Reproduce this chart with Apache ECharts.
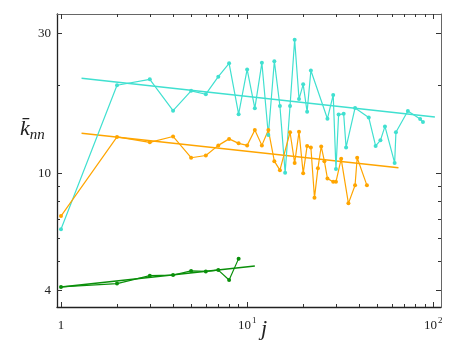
<!DOCTYPE html>
<html>
<head>
<meta charset="utf-8">
<script src="https://cdn.jsdelivr.net/npm/echarts@6/dist/echarts.min.js"></script>
<style>
  html, body { margin: 0; padding: 0; background: #fff; }
  #chart { width: 463px; height: 356px; }
</style>
</head>
<body>
<div id="chart"></div>
<script>
// data (j, k_nn)
const cyanJ = [1, 2, 3, 4, 5, 6, 7, 8, 9, 10, 11, 12, 13, 14, 15, 16, 17, 18, 19, 20, 21, 22, 27, 29, 30, 31, 33, 34, 38, 45, 49, 52, 55, 62, 63, 73, 85, 88];
const cyanK = [6.45, 19.95, 20.9, 16.35, 19.1, 18.6, 21.35, 23.7, 15.9, 22.6, 16.65, 23.8, 13.5, 24.1, 16.95, 10.05, 16.95, 28.5, 17.9, 20.1, 16.2, 22.4, 15.35, 18.5, 10.35, 15.85, 15.95, 12.25, 16.7, 15.5, 12.4, 12.95, 14.45, 10.85, 13.8, 16.3, 15.3, 14.95];

const orangeJ = [1, 2, 3, 4, 5, 6, 7, 8, 9, 10, 11, 12, 13, 14, 15, 17, 18, 19, 20, 21, 22, 23, 24, 25, 26, 27, 29, 30, 32, 35, 38, 39, 44];
const orangeK = [7.15, 13.3, 12.75, 13.35, 11.3, 11.5, 12.45, 13.1, 12.65, 12.45, 14.05, 12.45, 14.05, 11.0, 10.25, 13.8, 10.85, 13.85, 10.0, 12.4, 12.25, 8.25, 10.4, 12.35, 11.0, 9.6, 9.35, 9.35, 11.2, 7.9, 9.1, 11.3, 9.1];

const greenJ = [1, 2, 3, 4, 5, 6, 7, 8, 9];
const greenK = [4.1, 4.21, 4.48, 4.5, 4.65, 4.63, 4.68, 4.33, 5.12];

// fitted power laws (end points)
const cyanFitJ = [1.29, 102];
const cyanFitK = [21.1, 15.55];
const orangeFitJ = [1.29, 65];
const orangeFitK = [13.7, 10.45];
const greenFitJ = [1, 11];
const greenFitK = [4.1, 4.83];

// ticks
const xMajorTicks = [1, 10, 100];
const xTickLabels = ['1', '10^1', '10^2'];
const xMinorTicks = [2, 3, 4, 5, 6, 7, 8, 9, 20, 30, 40, 50, 60, 70, 80, 90];
const yMajorTicks = [4, 10, 30];
const yTickLabels = ['4', '10', '30'];
const yMinorTicks = [5, 6, 7, 8, 9, 20];

const xRange = [0.952, 110];
const yRange = [3.503, 34.9];

const lg = Math.log10;
const pairs = (xs, ys) => xs.map((x, i) => [lg(x), lg(ys[i])]);

const serif = '"Liberation Serif", "DejaVu Serif", serif';

function findLabel(v, ticks, labels) {
  let best = 0;
  ticks.forEach((t, i) => {
    if (Math.abs(lg(t) - v) < Math.abs(lg(ticks[best]) - v)) best = i;
  });
  return labels[best];
}

function xAxisDef(pos, major) {
  return {
    type: 'value',
    position: pos,
    min: lg(xRange[0]),
    max: lg(xRange[1]),
    splitLine: {show: false},
    axisLine: {show: major, onZero: false, lineStyle: {color: pos === 'bottom' ? '#222' : '#666', width: pos === 'bottom' ? 1.3 : 1}},
    axisTick: {
      show: true,
      inside: true,
      length: major ? 5 : 3,
      lineStyle: {color: '#333', width: 1},
      customValues: (major ? xMajorTicks : xMinorTicks).map(lg)
    },
    axisLabel: {
      show: major && pos === 'bottom',
      customValues: xMajorTicks.map(lg),
      margin: 9,
      formatter: v => {
        const s = findLabel(v, xMajorTicks, xTickLabels);
        if (s.indexOf('^') < 0) return '{b|' + s + '}';
        const p = s.split('^');
        return '{b|' + p[0] + '}{sup|' + p[1] + '}';
      },
      rich: {
        b: {fontFamily: serif, fontSize: 13, color: '#222', lineHeight: 16, verticalAlign: 'bottom'},
        sup: {fontFamily: serif, fontSize: 9, color: '#222', lineHeight: 16, verticalAlign: 'top', padding: [0, 0, 0, 1]}
      }
    }
  };
}

function yAxisDef(pos, major) {
  return {
    type: 'value',
    position: pos,
    min: lg(yRange[0]),
    max: lg(yRange[1]),
    splitLine: {show: false},
    axisLine: {show: major, onZero: false, lineStyle: {color: pos === 'left' ? '#222' : '#666', width: pos === 'left' ? 1.3 : 1}},
    axisTick: {
      show: true,
      inside: true,
      length: major ? 5 : 3,
      lineStyle: {color: '#333', width: 1},
      customValues: (major ? yMajorTicks : yMinorTicks).map(lg)
    },
    axisLabel: {
      show: major && pos === 'left',
      customValues: yMajorTicks.map(lg),
      margin: 6,
      fontFamily: serif,
      fontSize: 13,
      color: '#222',
      formatter: v => findLabel(v, yMajorTicks, yTickLabels)
    }
  };
}

function dataLine(name, color, xs, ys) {
  return {
    name: name,
    type: 'line',
    data: pairs(xs, ys),
    symbol: 'circle',
    symbolSize: 4,
    showSymbol: true,
    lineStyle: {color: color, width: 1.2},
    itemStyle: {color: color},
    silent: true,
    z: 3
  };
}

function fitLine(name, color, xs, ys) {
  return {
    name: name,
    type: 'line',
    data: pairs(xs, ys),
    showSymbol: false,
    symbol: 'none',
    lineStyle: {color: color, width: 1.5},
    silent: true,
    z: 2
  };
}

const chart = echarts.init(document.getElementById('chart'), null, {renderer: 'canvas'});

chart.setOption({
  animation: false,
  backgroundColor: '#fff',
  grid: {left: 57, top: 14, width: 384, height: 293},
  xAxis: [xAxisDef('bottom', true), xAxisDef('bottom', false), xAxisDef('top', true), xAxisDef('top', false)],
  yAxis: [yAxisDef('left', true), yAxisDef('left', false), yAxisDef('right', true), yAxisDef('right', false)],
  graphic: [
    {
      type: 'text',
      left: 20,
      top: 118,
      style: {
        text: '{k|k\u0304}{s|nn}',
        rich: {
          k: {fontFamily: serif, fontStyle: 'italic', fontSize: 22, fill: '#222', lineHeight: 24, verticalAlign: 'bottom'},
          s: {fontFamily: serif, fontStyle: 'italic', fontSize: 15, fill: '#222', lineHeight: 24, verticalAlign: 'bottom', padding: [0, 0, -3, 0]}
        }
      }
    },
    {
      type: 'text',
      left: 261,
      top: 318,
      style: {
        text: 'j',
        fontFamily: serif,
        fontStyle: 'italic',
        fontSize: 22,
        fill: '#222'
      }
    }
  ],
  series: [
    fitLine('cyan fit', '#40E0D0', cyanFitJ, cyanFitK),
    fitLine('orange fit', '#FFA500', orangeFitJ, orangeFitK),
    fitLine('green fit', '#0A8F0A', greenFitJ, greenFitK),
    dataLine('cyan', '#40E0D0', cyanJ, cyanK),
    dataLine('orange', '#FFA500', orangeJ, orangeK),
    dataLine('green', '#0A8F0A', greenJ, greenK)
  ]
});
</script>
</body>
</html>
